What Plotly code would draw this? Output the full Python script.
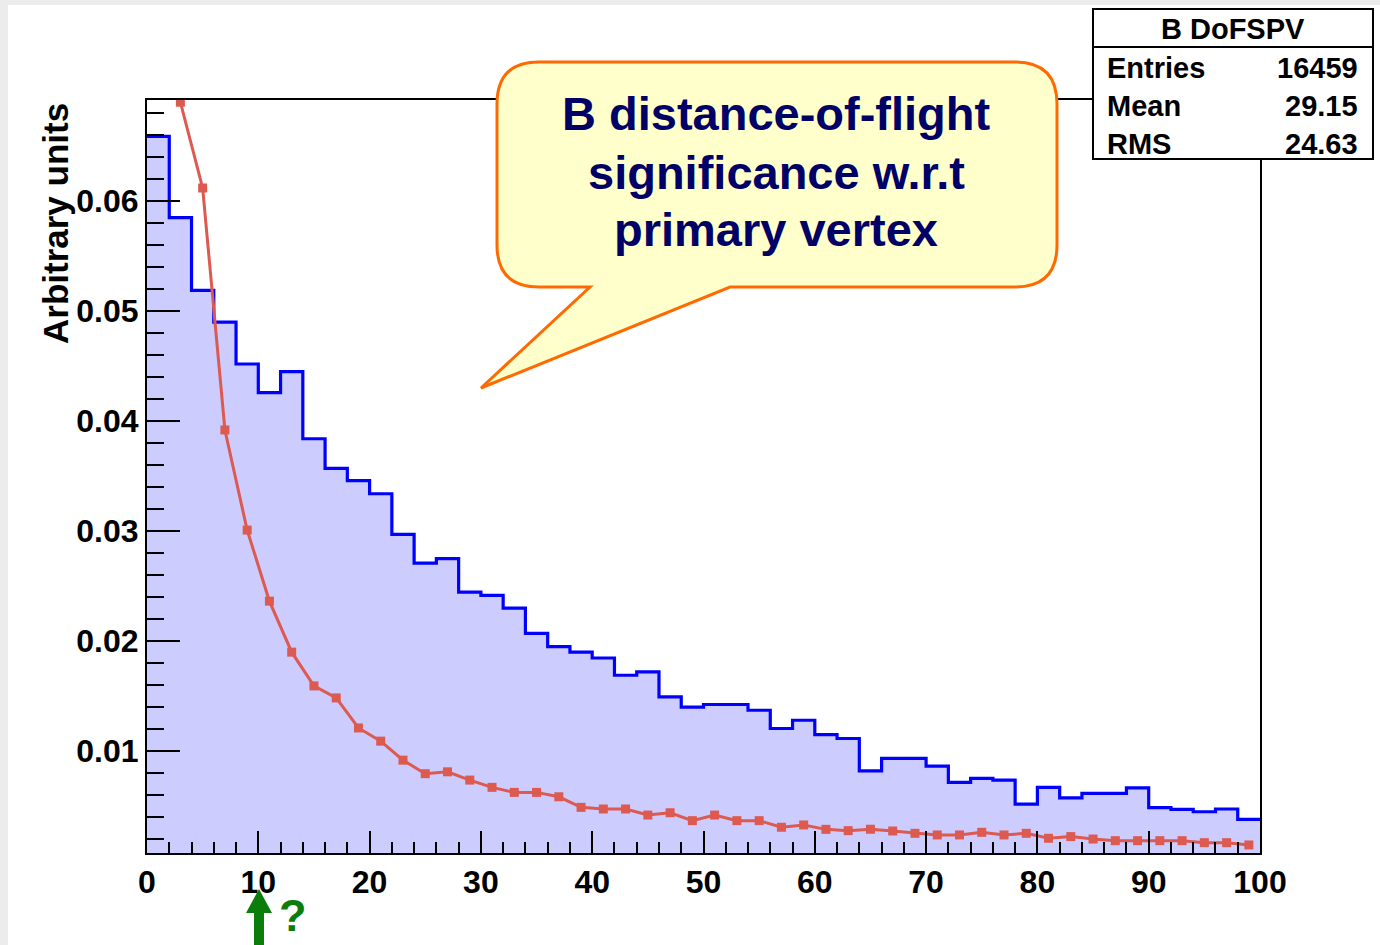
import plotly.graph_objects as go

# ---- data -------------------------------------------------------------
# Histogram "B DoFSPV": 50 bins of width 2 on [0, 100]
bin_edges = [2 * i for i in range(51)]
signal_counts = [
    0.0659, 0.0585, 0.0519, 0.0490, 0.0452, 0.0426, 0.0445, 0.0384, 0.0357, 0.0346,
    0.0334, 0.0297, 0.0271, 0.0275, 0.02446, 0.02416, 0.0230, 0.0207, 0.0195, 0.0190,
    0.01847, 0.0169, 0.0172, 0.01493, 0.0140, 0.01424, 0.01424, 0.01372, 0.01206, 0.01281,
    0.01151, 0.01115, 0.00821, 0.00934, 0.00934, 0.00864, 0.00716, 0.00752, 0.00737, 0.00519,
    0.00670, 0.00576, 0.00616, 0.00616, 0.00667, 0.00486, 0.00471, 0.00449, 0.00474, 0.00380,
]

# Second distribution, drawn at bin centres
bkg_x = [3 + 2 * i for i in range(49)]
bkg_y = [
    0.0690, 0.0612, 0.0392, 0.0301, 0.02364, 0.01900, 0.01593, 0.01484, 0.01211, 0.01091,
    0.00918, 0.00795, 0.00812, 0.00737, 0.00671, 0.00625, 0.00625, 0.00585, 0.00489, 0.00474,
    0.00474, 0.00419, 0.00440, 0.00368, 0.00419, 0.00368, 0.00368, 0.00308, 0.00329, 0.00289,
    0.00277, 0.00290, 0.00274, 0.00253, 0.00238, 0.00238, 0.00262, 0.00238, 0.00253, 0.00208,
    0.00223, 0.00201, 0.00186, 0.00186, 0.00186, 0.00186, 0.00168, 0.00168, 0.00147,
]

x_tick_vals = [0, 10, 20, 30, 40, 50, 60, 70, 80, 90, 100]
y_tick_vals = [0.01, 0.02, 0.03, 0.04, 0.05, 0.06]

stats_title = "B DoFSPV"
stats_rows = [("Entries", "16459"), ("Mean", "29.15"), ("RMS", "24.63")]
callout_lines = ["B distance-of-flight", "significance w.r.t", "primary vertex"]

# ---- page geometry (pixels) -------------------------------------------
W, H = 1380, 945
PL, PR, PT, PB = 147, 1260, 100, 853  # frame edges


def fx(p):
    return (p - PL) / (PR - PL)


def fy(p):
    return (PB - p) / (PB - PT)


FONT = "Liberation Sans, Arial, sans-serif"

fig = go.Figure()

# filled step histogram
fig.add_trace(go.Scatter(
    x=bin_edges,
    y=signal_counts + [signal_counts[-1]],
    mode="lines",
    line=dict(shape="hv", color="#0000ff", width=3.2),
    fill="tozeroy",
    fillcolor="#ccccff",
    hoverinfo="skip",
    showlegend=False,
))

# line + square markers
fig.add_trace(go.Scatter(
    x=bkg_x,
    y=bkg_y,
    mode="lines+markers",
    line=dict(color="#dc5a50", width=3),
    marker=dict(symbol="square", size=9, color="#dc5a50"),
    hoverinfo="skip",
    showlegend=False,
))

tickfont = dict(family=FONT, size=32, color="black", weight="bold")

fig.update_xaxes(
    range=[0, 100],
    tickvals=x_tick_vals,
    ticks="inside", ticklen=22, tickwidth=2, tickcolor="black",
    minor=dict(ticks="inside", ticklen=11, tickwidth=2, tickcolor="black", dtick=2, tick0=0),
    showline=True, linecolor="black", linewidth=2, mirror=True,
    showgrid=False, zeroline=False,
    tickfont=tickfont,
)
fig.update_yaxes(
    range=[0.00074, 0.0692],
    tickvals=y_tick_vals,
    tickformat=".2f",
    ticks="inside", ticklen=33, tickwidth=2, tickcolor="black",
    minor=dict(ticks="inside", ticklen=17, tickwidth=2, tickcolor="black", dtick=0.002, tick0=0),
    showline=True, linecolor="black", linewidth=2, mirror=True,
    showgrid=False, zeroline=False,
    tickfont=tickfont,
)

shapes = []
# light grey page border strips
shapes.append(dict(type="rect", xref="paper", yref="paper", x0=fx(0), x1=fx(8), y0=fy(H), y1=fy(0),
                   fillcolor="#ececec", line=dict(width=0), layer="below"))
shapes.append(dict(type="rect", xref="paper", yref="paper", x0=fx(0), x1=fx(W), y0=fy(5), y1=fy(0),
                   fillcolor="#ececec", line=dict(width=0), layer="below"))

# statistics box
shapes.append(dict(type="rect", xref="paper", yref="paper", x0=fx(1093), x1=fx(1373), y0=fy(159), y1=fy(9),
                   fillcolor="white", line=dict(color="black", width=2), layer="above"))
shapes.append(dict(type="line", xref="paper", yref="paper", x0=fx(1093), x1=fx(1373), y0=fy(47), y1=fy(47),
                   line=dict(color="black", width=2), layer="above"))

# speech-bubble callout
L, R, T, B, r = 497, 1057, 62, 287, 42
tail_a, tail_b, tip = 590, 730, (481, 388)


def P(px, py):
    return f"{fx(px):.5f},{fy(py):.5f}"


bubble = (
    f"M {P(L + r, T)} L {P(R - r, T)} Q {P(R, T)} {P(R, T + r)} "
    f"L {P(R, B - r)} Q {P(R, B)} {P(R - r, B)} "
    f"L {P(tail_b, B)} L {P(*tip)} L {P(tail_a, B)} "
    f"L {P(L + r, B)} Q {P(L, B)} {P(L, B - r)} "
    f"L {P(L, T + r)} Q {P(L, T)} {P(L + r, T)} Z"
)
shapes.append(dict(type="path", xref="paper", yref="paper", path=bubble,
                   fillcolor="#ffffcc", line=dict(color="#ff6a00", width=3), layer="above"))

# green arrow under x = 10
ax_c = 259
arrow = (
    f"M {P(ax_c - 5, 945)} L {P(ax_c - 5, 913)} L {P(ax_c - 13, 913)} L {P(ax_c, 889)} "
    f"L {P(ax_c + 13, 913)} L {P(ax_c + 5, 913)} L {P(ax_c + 5, 945)} Z"
)
shapes.append(dict(type="path", xref="paper", yref="paper", path=arrow,
                   fillcolor="#0a7d0a", line=dict(width=0), layer="above"))

annotations = []
# y-axis title
annotations.append(dict(text="Arbitrary units", xref="paper", yref="paper", x=fx(56), y=fy(224),
                        textangle=-90, showarrow=False,
                        font=dict(family=FONT, size=35, color="black", weight="bold"),
                        xanchor="center", yanchor="middle"))
# stats box text
sfont = dict(family=FONT, size=29, color="black", weight="bold")
annotations.append(dict(text=stats_title, xref="paper", yref="paper", x=fx(1233), y=fy(29),
                        showarrow=False, font=sfont, xanchor="center", yanchor="middle"))
for i, (k, v) in enumerate(stats_rows):
    yy = fy(68 + 38 * i)
    annotations.append(dict(text=k, xref="paper", yref="paper", x=fx(1105), y=yy,
                            showarrow=False, font=sfont, xanchor="left", yanchor="middle"))
    annotations.append(dict(text=v, xref="paper", yref="paper", x=fx(1360), y=yy,
                            showarrow=False, font=sfont, xanchor="right", yanchor="middle"))
# callout text
cfont = dict(family=FONT, size=47, color="#000066", weight="bold")
for i, line in enumerate(callout_lines):
    annotations.append(dict(text=line, xref="paper", yref="paper", x=fx(776), y=fy(114 + 58 * i),
                            showarrow=False, font=cfont, xanchor="center", yanchor="middle"))
# question mark beside the arrow
annotations.append(dict(text="?", xref="paper", yref="paper", x=fx(277), y=fy(915),
                        showarrow=False, font=dict(family=FONT, size=45, color="#0a7d0a", weight="bold"),
                        xanchor="left", yanchor="middle"))

fig.update_layout(
    width=W, height=H, autosize=False,
    margin=dict(l=PL, r=W - PR, t=PT, b=H - PB, pad=0),
    paper_bgcolor="white", plot_bgcolor="white",
    shapes=shapes, annotations=annotations,
    showlegend=False,
)

fig.write_html("out.html")
